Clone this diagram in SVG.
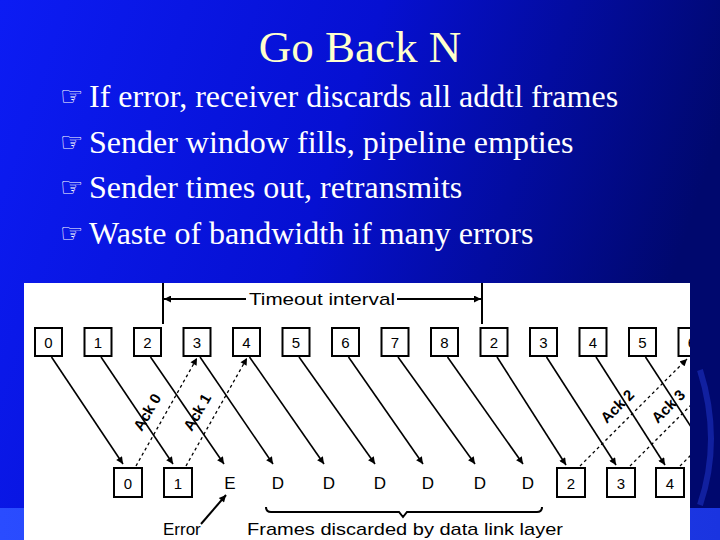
<svg xmlns="http://www.w3.org/2000/svg" width="720" height="540" viewBox="0 0 720 540">
<defs>
  <linearGradient id="bg" x1="0" y1="0" x2="1" y2="0.25">
    <stop offset="0" stop-color="#0c1cf4"/>
    <stop offset="0.5" stop-color="#0610d2"/>
    <stop offset="1" stop-color="#00086e"/>
  </linearGradient>
  <linearGradient id="band" x1="0" y1="0" x2="1" y2="0">
    <stop offset="0" stop-color="#2a4cff"/>
    <stop offset="1" stop-color="#1a34e0"/>
  </linearGradient>
  <marker id="ah" viewBox="0 0 10 10" refX="10" refY="5" markerWidth="9" markerHeight="7" markerUnits="userSpaceOnUse" orient="auto">
    <path d="M0,0 L10,5 L0,10 z" fill="#000"/>
  </marker>
  <marker id="ahl" viewBox="0 0 10 10" refX="10" refY="5" markerWidth="8" markerHeight="7" markerUnits="userSpaceOnUse" orient="auto">
    <path d="M0,0 L10,5 L0,10 z" fill="#000"/>
  </marker>
  <clipPath id="panel"><rect x="24" y="283" width="666" height="257"/></clipPath>
</defs>
<style>
  .title{font-family:"Liberation Serif","Times New Roman",serif;font-size:45px;fill:#ffffcc;text-anchor:middle}
  .bul{font-family:"Liberation Serif","Times New Roman",serif;font-size:32px;fill:#ffffff}
  .hand{font-family:"DejaVu Sans",sans-serif;font-size:26px;fill:#ffffff}
  .box{fill:#fff;stroke:#000;stroke-width:2}
  .num{font-family:"Liberation Sans",Arial,sans-serif;font-size:15px;fill:#000;text-anchor:middle;dominant-baseline:central}
  .big{font-family:"Liberation Sans",Arial,sans-serif;font-size:17px;fill:#000;text-anchor:middle;dominant-baseline:central}
  .cap{font-family:"Liberation Sans",Arial,sans-serif;font-size:17px;fill:#000}
  .ack{font-family:"Liberation Sans",Arial,sans-serif;font-size:15px;font-weight:bold;fill:#000;text-anchor:middle;dominant-baseline:central}
  .data{stroke:#000;stroke-width:1.6;fill:none;marker-end:url(#ah)}
  .ackl{stroke:#000;stroke-width:1.3;stroke-dasharray:3,3;fill:none;marker-end:url(#ahl)}
  .ln{stroke:#000;stroke-width:2;fill:none}
</style>

<rect x="0" y="0" width="720" height="540" fill="url(#bg)"/>
<rect x="0" y="508" width="720" height="32" fill="url(#band)"/>
<path d="M700,370 Q722,440 700,505" stroke="#2238d0" stroke-width="6" fill="none" opacity="0.5"/>

<text class="title" x="360" y="62">Go Back N</text>
<g id="bullets">
  <text class="hand" x="60" y="105">☞</text>
  <text class="bul" x="89" y="107">If error, receiver discards all addtl frames</text>
  <text class="hand" x="60" y="151">☞</text>
  <text class="bul" x="89" y="153">Sender window fills, pipeline empties</text>
  <text class="hand" x="60" y="196">☞</text>
  <text class="bul" x="89" y="198">Sender times out, retransmits</text>
  <text class="hand" x="60" y="242">☞</text>
  <text class="bul" x="89" y="244">Waste of bandwidth if many errors</text>
</g>

<rect x="24" y="283" width="666" height="257" fill="#fff"/>

<g clip-path="url(#panel)">
  <g id="timeout">
    <line class="ln" x1="163" y1="283" x2="163" y2="324"/>
    <line class="ln" x1="482" y1="283" x2="482" y2="324"/>
    <line class="ln" x1="246" y1="299" x2="164" y2="299" marker-end="url(#ah)"/>
    <line class="ln" x1="397" y1="299" x2="481" y2="299" marker-end="url(#ah)"/>
    <text class="cap" x="249" y="305" textLength="146" lengthAdjust="spacingAndGlyphs">Timeout interval</text>
  </g>

  <g id="s0"><rect class="box" x="35" y="328" width="27" height="28"/><text class="num" x="48.5" y="342">0</text></g>
  <g id="s1"><rect class="box" x="84.5" y="328" width="27" height="28"/><text class="num" x="98" y="342">1</text></g>
  <g id="s2"><rect class="box" x="134" y="328" width="27" height="28"/><text class="num" x="147.5" y="342">2</text></g>
  <g id="s3"><rect class="box" x="183.5" y="328" width="27" height="28"/><text class="num" x="197" y="342">3</text></g>
  <g id="s4"><rect class="box" x="233" y="328" width="27" height="28"/><text class="num" x="246.5" y="342">4</text></g>
  <g id="s5"><rect class="box" x="282.5" y="328" width="27" height="28"/><text class="num" x="296" y="342">5</text></g>
  <g id="s6"><rect class="box" x="332" y="328" width="27" height="28"/><text class="num" x="345.5" y="342">6</text></g>
  <g id="s7"><rect class="box" x="381.5" y="328" width="27" height="28"/><text class="num" x="395" y="342">7</text></g>
  <g id="s8"><rect class="box" x="431" y="328" width="27" height="28"/><text class="num" x="444.5" y="342">8</text></g>
  <g id="s9"><rect class="box" x="480.5" y="328" width="27" height="28"/><text class="num" x="494" y="342">2</text></g>
  <g id="s10"><rect class="box" x="530" y="328" width="27" height="28"/><text class="num" x="543.5" y="342">3</text></g>
  <g id="s11"><rect class="box" x="579.5" y="328" width="27" height="28"/><text class="num" x="593" y="342">4</text></g>
  <g id="s12"><rect class="box" x="629" y="328" width="27" height="28"/><text class="num" x="642.5" y="342">5</text></g>
  <g id="s13"><rect class="box" x="678.5" y="328" width="27" height="28"/><text class="num" x="692" y="342">6</text></g>

  <g id="r0"><rect class="box" x="114" y="468" width="28" height="29"/><text class="num" x="128" y="483">0</text></g>
  <g id="r1"><rect class="box" x="164" y="468" width="28" height="29"/><text class="num" x="178" y="483">1</text></g>
  <g id="rE"><text class="big" x="230" y="483">E</text></g>
  <g id="rD1"><text class="big" x="278" y="483">D</text></g>
  <g id="rD2"><text class="big" x="329" y="483">D</text></g>
  <g id="rD3"><text class="big" x="380" y="483">D</text></g>
  <g id="rD4"><text class="big" x="428" y="483">D</text></g>
  <g id="rD5"><text class="big" x="480" y="483">D</text></g>
  <g id="rD6"><text class="big" x="528" y="483">D</text></g>
  <g id="r2"><rect class="box" x="557" y="468" width="28" height="29"/><text class="num" x="571" y="483">2</text></g>
  <g id="r3"><rect class="box" x="607" y="468" width="28" height="29"/><text class="num" x="621" y="483">3</text></g>
  <g id="r4"><rect class="box" x="656" y="468" width="28" height="29"/><text class="num" x="670" y="483">4</text></g>

  <g id="connectors">
    <line class="data" x1="51.5" y1="357" x2="123" y2="464"/>
    <line class="data" x1="101" y1="357" x2="173" y2="464"/>
    <line class="data" x1="150.5" y1="357" x2="224" y2="464"/>
    <line class="data" x1="200" y1="357" x2="273" y2="464"/>
    <line class="data" x1="249.5" y1="357" x2="324" y2="464"/>
    <line class="data" x1="299" y1="357" x2="375" y2="464"/>
    <line class="data" x1="348.5" y1="357" x2="423" y2="464"/>
    <line class="data" x1="398" y1="357" x2="475" y2="464"/>
    <line class="data" x1="447.5" y1="357" x2="523" y2="464"/>
    <line class="data" x1="497" y1="357" x2="566" y2="465"/>
    <line class="data" x1="546.5" y1="357" x2="616" y2="465"/>
    <line class="data" x1="596" y1="357" x2="665" y2="465"/>
    <line class="data" x1="645.5" y1="357" x2="716" y2="465"/>

    <line class="ackl" x1="136" y1="466" x2="197" y2="358"/>
    <line class="ackl" x1="186" y1="466" x2="247" y2="358"/>
    <line class="ackl" x1="580" y1="466" x2="687" y2="359"/>
    <line class="ackl" x1="630" y1="466" x2="737" y2="359"/>
    <line class="ackl" x1="680" y1="466" x2="787" y2="359"/>

    <line class="ln" x1="201" y1="524" x2="226" y2="495" marker-end="url(#ah)" stroke-width="1.5"/>
    <path class="ln" d="M266,507 Q266,512 271,512 L399,512 L403,517 L407,512 L537,512 Q542,512 542,507"/>
  </g>

  <g id="acklabels">
    <text class="ack" x="147" y="412" transform="rotate(-60 147 412)">Ack 0</text>
    <text class="ack" x="197" y="412" transform="rotate(-60 197 412)">Ack 1</text>
    <text class="ack" x="617" y="406" transform="rotate(-45 617 406)">Ack 2</text>
    <text class="ack" x="668" y="406" transform="rotate(-45 668 406)">Ack 3</text>
  </g>

  <g id="captions">
    <text class="cap" x="163" y="535">Error</text>
    <text class="cap" x="247" y="535" textLength="316" lengthAdjust="spacingAndGlyphs">Frames discarded by data link layer</text>
  </g>
</g>
</svg>
